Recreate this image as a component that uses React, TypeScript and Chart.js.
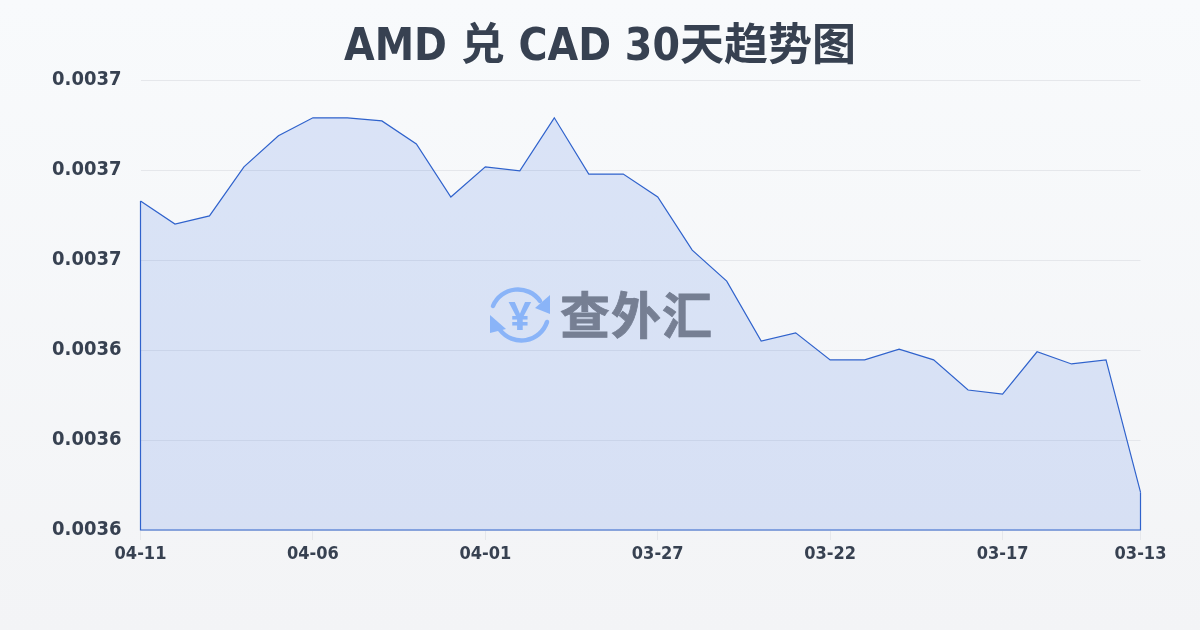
import React, { useEffect, useRef } from "react";
import { Chart, registerables } from "chart.js";

Chart.register(...registerables);

const titleText = "AMD 兑 CAD 30天趋势图";
const watermarkText = "查外汇";
const dates = [
  "04-11", "04-10", "04-09", "04-08", "04-07", "04-06", "04-05", "04-04", "04-03", "04-02",
  "04-01", "03-31", "03-30", "03-29", "03-28", "03-27", "03-26", "03-25", "03-24", "03-23",
  "03-22", "03-21", "03-20", "03-19", "03-18", "03-17", "03-16", "03-15", "03-14", "03-13",
];
const rates = [
  0.0036731, 0.003668, 0.0036698, 0.0036807, 0.0036876, 0.0036916, 0.0036916, 0.0036909, 0.0036858, 0.003674,
  0.0036807, 0.0036798, 0.0036916, 0.0036791, 0.0036791, 0.003674, 0.0036622, 0.0036553, 0.003642, 0.0036438,
  0.0036378, 0.0036378, 0.0036402, 0.0036378, 0.0036311, 0.0036302, 0.0036396, 0.0036369, 0.0036378, 0.0036084,
];
const shownDates = ["04-11", "04-06", "04-01", "03-27", "03-22", "03-17", "03-13"];

const FONT = '"DejaVu Sans Condensed", "Noto Sans CJK SC", sans-serif';
const LINE = "#2f62cc";
const TEXT = "#374151";

const areaOutline = {
  id: "areaOutline",
  afterDatasetsDraw(chart: any) {
    const pts = chart.getDatasetMeta(0).data;
    const base = chart.scales.y.bottom;
    const c = chart.ctx;
    c.save();
    c.strokeStyle = LINE;
    c.lineWidth = 1.2;
    c.beginPath();
    c.moveTo(pts[0].x, pts[0].y);
    c.lineTo(pts[0].x, base);
    c.lineTo(pts[pts.length - 1].x, base);
    c.lineTo(pts[pts.length - 1].x, pts[pts.length - 1].y);
    c.stroke();
    c.restore();
  },
};

export default function App() {
  const ref = useRef<HTMLCanvasElement | null>(null);

  useEffect(() => {
    if (!ref.current) return;
    const chart = new Chart(ref.current, {
      type: "line",
      plugins: [areaOutline],
      data: {
        labels: dates,
        datasets: [
          {
            data: rates,
            borderColor: LINE,
            borderWidth: 1.2,
            backgroundColor: "rgba(40,100,225,0.14)",
            fill: "origin",
            pointRadius: 0,
            tension: 0,
          },
        ],
      },
      options: {
        responsive: false,
        animation: false,
        devicePixelRatio: 1,
        layout: { padding: 0 },
        plugins: {
          legend: { display: false },
          tooltip: { enabled: false },
          title: {
            display: true,
            text: titleText,
            color: TEXT,
            font: { family: FONT, size: 44, weight: "bold" },
            padding: { top: 22.2, bottom: 5 },
          },
        },
        scales: {
          x: {
            type: "category",
            afterBuildTicks(s: any) {
              s.ticks = s.ticks.filter((t: any) => shownDates.includes(dates[t.value]));
            },
            afterFit(s: any) {
              s.height = 100;
            },
            grid: {
              drawOnChartArea: false,
              drawTicks: true,
              tickLength: 10,
              tickColor: "#e5e7eb",
            },
            border: { display: false },
            ticks: {
              autoSkip: false,
              maxRotation: 0,
              color: TEXT,
              padding: 4,
              font: { family: FONT, size: 18, weight: "bold" },
            },
          },
          y: {
            min: 0.0036,
            max: 0.0037,
            afterFit(s: any) {
              s.width = 140.5;
            },
            grid: { color: "#e5e7eb", lineWidth: 1, drawTicks: false },
            border: { display: false },
            ticks: {
              stepSize: 0.00002,
              color: TEXT,
              padding: 19,
              font: { family: FONT, size: 20, weight: "bold" },
              callback: (v: any) => Number(v).toFixed(4),
            },
          },
          rightGap: {
            position: "right",
            afterFit(s: any) {
              s.width = 59.5;
            },
            grid: { display: false },
            border: { display: false },
            ticks: { display: false },
          },
        },
      },
    } as any);
    return () => chart.destroy();
  }, []);

  return (
    <div
      style={{
        position: "fixed",
        left: 0,
        top: 0,
        width: 1200,
        height: 630,
        background: "linear-gradient(180deg, #f8fafc 0%, #f3f4f6 100%)",
        overflow: "hidden",
      }}
    >
      <canvas ref={ref} width={1200} height={630} style={{ display: "block", width: 1200, height: 630 }} />
      <svg
        width={240}
        height={70}
        viewBox="0 0 240 70"
        style={{ position: "absolute", left: 480, top: 280 }}
      >
        <g fill="none" stroke="#8ab4f8" strokeWidth={4.5} strokeLinecap="round">
          <path d="M 13 26 A 27 27 0 0 1 60 21" />
          <path d="M 67 42 A 27 27 0 0 1 20 50" />
        </g>
        <polygon points="70,15 70,34 55,28" fill="#8ab4f8" />
        <polygon points="10,35 26,49 10,53" fill="#8ab4f8" />
        <text
          x={40}
          y={50}
          textAnchor="middle"
          fill="#8ab4f8"
          style={{ font: 'bold 40px "Noto Sans", sans-serif' }}
        >
          ¥
        </text>
        <text
          x={80}
          y={54}
          fill="#767f93"
          stroke="#767f93"
          strokeWidth={0.8}
          style={{ font: 'bold 50px "Noto Sans CJK SC", sans-serif', letterSpacing: 1 }}
        >
          {watermarkText}
        </text>
      </svg>
    </div>
  );
}
